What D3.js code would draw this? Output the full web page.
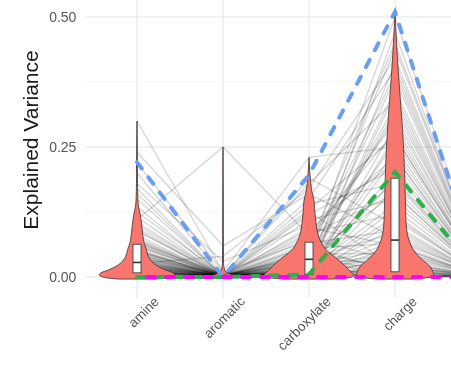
<!DOCTYPE html>
<html>
<head>
<meta charset="utf-8">
<script src="https://cdn.jsdelivr.net/npm/d3@7"></script>
<style>
  body { margin: 0; background: #fff; }
  svg { display: block; font-family: "Liberation Sans", Arial, sans-serif; filter: blur(0.4px); }
</style>
</head>
<body>
<svg id="chart" width="451" height="367"></svg>
<script>
// categories (the 5th one sits just past the right edge of the crop)
const categories = ["amine", "aromatic", "carboxylate", "charge", "next"];
const tickLabels = ["amine", "aromatic", "carboxylate", "charge", ""];
const yTicks = [0, 0.25, 0.5];
const yMinorTicks = [0.125, 0.375];

// one value per sample and category (gray lines)
const amineVals = [0.002,0.004,0.006,0.008,0.010,0.012,0.014,0.016,0.018,0.020,0.022,0.024,0.026,0.028,0.030,0.032,0.035,0.038,0.040,0.043,0.046,0.050,0.054,0.058,0.062,0.066,0.070,0.075,0.080,0.088,0.095,0.105,0.115,0.125,0.135,0.150,0.170,0.200,0.240,0.300,0.003,0.005,0.007,0.009,0.011,0.015,0.019,0.025,0.033,0.045,0.060,0.110,0.180,0.220,0.026,
  0.012,0.020,0.035,0.050,0.008,0.028,0.042,0.016,0.064,0.072,0.004,0.010,0.022,0.038,0.090,0.006,0.013,0.018,0.030,0.052,0.100,0.160,0.048,0.024,0.068];
const aromaticVals = [0.001,0.000,0.002,0.001,0.003,0.000,0.001,0.002,0.004,0.001,0.000,0.002,0.001,0.003,0.000,0.002,0.001,0.004,0.000,0.002,0.001,0.003,0.000,0.002,0.001,0.005,0.000,0.002,0.001,0.003,0.000,0.002,0.001,0.004,0.000,0.002,0.001,0.003,0.060,0.010,0.000,0.001,0.000,0.001,0.002,0.000,0.001,0.002,0.000,0.001,0.002,0.250,0.030,0.010,0.040,
  0.001,0.002,0.000,0.001,0.003,0.001,0.002,0.000,0.001,0.002,0.000,0.001,0.000,0.002,0.001,0.000,0.001,0.000,0.001,0.000,0.002,0.001,0.003,0.001,0.002];
const carboxylateVals = [0.003,0.002,0.008,0.001,0.012,0.004,0.020,0.006,0.025,0.010,0.030,0.002,0.035,0.015,0.040,0.005,0.045,0.018,0.050,0.008,0.055,0.022,0.060,0.003,0.065,0.028,0.075,0.012,0.085,0.032,0.095,0.007,0.110,0.038,0.125,0.014,0.140,0.042,0.160,0.230,0.001,0.004,0.002,0.006,0.009,0.003,0.016,0.011,0.024,0.005,0.190,0.080,0.100,0.070,0.170,
  0.010,0.020,0.030,0.050,0.004,0.015,0.060,0.009,0.120,0.080,0.002,0.007,0.013,0.027,0.045,0.001,0.005,0.008,0.017,0.035,0.150,0.180,0.090,0.040,0.130];
const chargeVals = [0.004,0.010,0.002,0.020,0.006,0.035,0.001,0.050,0.012,0.080,0.003,0.110,0.025,0.140,0.008,0.170,0.045,0.200,0.015,0.230,0.065,0.260,0.005,0.290,0.090,0.320,0.030,0.350,0.120,0.380,0.060,0.410,0.150,0.440,0.020,0.470,0.180,0.500,0.075,0.250,0.001,0.002,0.007,0.004,0.013,0.018,0.028,0.040,0.055,0.070,0.100,0.160,0.220,0.300,0.420,
  0.190,0.240,0.330,0.390,0.270,0.360,0.450,0.130,0.210,0.280,0.060,0.095,0.115,0.185,0.310,0.015,0.022,0.032,0.048,0.085,0.400,0.340,0.230,0.160,0.270];
const nextVals = [0.001,0.002,0.000,0.003,0.001,0.004,0.002,0.006,0.001,0.003,0.000,0.005,0.002,0.008,0.001,0.004,0.003,0.010,0.002,0.006,0.001,0.012,0.000,0.007,0.004,0.015,0.002,0.009,0.003,0.011,0.001,0.013,0.005,0.016,0.002,0.010,0.004,0.018,0.003,0.006,0.000,0.001,0.000,0.002,0.001,0.003,0.002,0.004,0.001,0.005,0.003,0.007,0.008,0.012,0.014,
  0.006,0.009,0.011,0.013,0.008,0.012,0.015,0.004,0.007,0.010,0.002,0.003,0.004,0.006,0.009,0.001,0.002,0.001,0.002,0.003,0.012,0.010,0.008,0.005,0.009];

// violin density profiles: [value, relative density]
const amineViolin = [[-0.004,0.42],[0,0.76],[0.004,0.84],[0.008,0.8],[0.014,0.62],[0.02,0.48],[0.027,0.36],[0.035,0.28],[0.045,0.23],[0.055,0.2],[0.065,0.16],[0.08,0.13],[0.095,0.11],[0.11,0.09],[0.125,0.06],[0.135,0.035],[0.15,0.02],[0.18,0.012],[0.22,0.008],[0.26,0.006],[0.30,0]];
const aromaticViolin = [[-0.003,0.1],[0,0.22],[0.003,0.24],[0.006,0.15],[0.01,0.06],[0.02,0.02],[0.05,0.01],[0.15,0.006],[0.25,0]];
const carboxylateViolin = [[-0.004,0.5],[0,0.95],[0.004,1],[0.01,0.93],[0.018,0.84],[0.027,0.73],[0.04,0.55],[0.052,0.38],[0.07,0.25],[0.085,0.19],[0.104,0.155],[0.125,0.13],[0.148,0.11],[0.162,0.07],[0.18,0.04],[0.2,0.02],[0.215,0.01],[0.23,0]];
const chargeViolin = [[-0.004,0.4],[0,0.8],[0.003,0.86],[0.01,0.84],[0.02,0.78],[0.03,0.65],[0.046,0.46],[0.06,0.36],[0.077,0.29],[0.1,0.25],[0.15,0.23],[0.21,0.21],[0.28,0.17],[0.34,0.12],[0.40,0.07],[0.45,0.035],[0.49,0.012],[0.51,0]];
const violins = [amineViolin, aromaticViolin, carboxylateViolin, chargeViolin];

// boxplot stats for the four visible categories
const boxQ1 = [0.008, 0.0005, 0.005, 0.01];
const boxMedian = [0.028, 0.002, 0.034, 0.071];
const boxQ3 = [0.063, 0.004, 0.067, 0.19];

// dashed summary lines
const blueSeries = [0.221, 0, 0.196, 0.51, 0];
const greenSeries = [0, 0, 0.005, 0.202, 0];
const magentaSeries = [0, 0, 0, 0, 0];

const W = 451, H = 367;
const svg = d3.select("#chart");
svg.append("rect").attr("width", W).attr("height", H).attr("fill", "#fff");

const x = d3.scalePoint().domain(categories).range([137, 481]);
const y = d3.scaleLinear().domain([0, 0.5]).range([277, 17]);
const w = d3.scaleLinear().domain([0, 1]).range([0, 45]);

const panelLeft = x(categories[0]) - 0.6 * x.step();
const panelTop = 0, panelBottom = 298;

// grid
const grid = svg.append("g");
grid.selectAll(".minor").data(yMinorTicks).join("line")
  .attr("x1", panelLeft).attr("x2", W)
  .attr("y1", d => y(d)).attr("y2", d => y(d))
  .attr("stroke", "#f0f0f0").attr("stroke-width", 0.7);
grid.selectAll(".major").data(yTicks).join("line")
  .attr("x1", panelLeft).attr("x2", W)
  .attr("y1", d => y(d)).attr("y2", d => y(d))
  .attr("stroke", "#e6e6e6").attr("stroke-width", 1.1);
grid.selectAll(".vert").data(categories).join("line")
  .attr("x1", d => x(d)).attr("x2", d => x(d))
  .attr("y1", panelTop).attr("y2", panelBottom)
  .attr("stroke", "#e6e6e6").attr("stroke-width", 1.1);

// gray sample lines
const samples = amineVals.map((v, i) => [v, aromaticVals[i], carboxylateVals[i], chargeVals[i], nextVals[i]]);
const line = d3.line().x((d, i) => x(categories[i])).y(d => y(d));
svg.append("g").selectAll("path").data(samples).join("path")
  .attr("d", line)
  .attr("fill", "none")
  .attr("stroke", "#000")
  .attr("stroke-opacity", 0.16)
  .attr("stroke-width", 1.4);

// violins
violins.forEach((prof, i) => {
  const cx = x(categories[i]);
  const area = d3.area()
    .y(d => y(d[0]))
    .x0(d => cx - w(d[1]))
    .x1(d => cx + w(d[1]))
    .curve(d3.curveCatmullRom);
  svg.append("path")
    .datum(prof)
    .attr("d", area)
    .attr("fill", "#F8766D")
    .attr("stroke", "#3a3030")
    .attr("stroke-width", 0.8);
});

// boxes
const boxes = svg.append("g");
categories.slice(0, 4).forEach((c, i) => {
  const cx = x(c);
  boxes.append("rect")
    .attr("x", cx - 4).attr("width", 8)
    .attr("y", y(boxQ3[i])).attr("height", y(boxQ1[i]) - y(boxQ3[i]))
    .attr("fill", "#fff").attr("stroke", "#333").attr("stroke-width", 0.8);
  boxes.append("line")
    .attr("x1", cx - 4).attr("x2", cx + 4)
    .attr("y1", y(boxMedian[i])).attr("y2", y(boxMedian[i]))
    .attr("stroke", "#333").attr("stroke-width", 1.6);
});

// dashed lines
const dashed = [
  { vals: blueSeries, color: "#6a9ef0", offset: 0 },
  { vals: greenSeries, color: "#2bb04a", offset: 0 },
  { vals: magentaSeries, color: "#ff00ff", offset: 9 }
];
dashed.forEach(s => {
  svg.append("path")
    .datum(s.vals)
    .attr("d", line)
    .attr("fill", "none")
    .attr("stroke", s.color)
    .attr("stroke-width", 4)
    .attr("stroke-linecap", "round")
    .attr("stroke-dasharray", "8,11")
    .attr("stroke-dashoffset", s.offset);
});

// y axis
const yAxis = svg.append("g")
  .attr("transform", `translate(${panelLeft},0)`)
  .call(d3.axisLeft(y).tickValues(yTicks).tickFormat(d3.format(".2f")).tickSize(0).tickPadding(9));
yAxis.select(".domain").remove();
yAxis.selectAll("text")
  .attr("font-size", 14)
  .attr("font-family", "Liberation Sans, Arial, sans-serif")
  .attr("fill", "#555");

// x axis
const xAxis = svg.append("g")
  .attr("transform", `translate(0,${panelBottom})`)
  .call(d3.axisBottom(x).tickSize(0).tickFormat((d, i) => tickLabels[i]));
xAxis.select(".domain").remove();
xAxis.selectAll("text")
  .attr("x", 0).attr("y", 0).attr("dy", "0.35em")
  .attr("text-anchor", "end")
  .attr("transform", "translate(19,1) rotate(-45)")
  .attr("font-size", 13.5)
  .attr("font-family", "Liberation Sans, Arial, sans-serif")
  .attr("fill", "#555");

// y title
svg.append("text")
  .attr("transform", "translate(38,140) rotate(-90)")
  .attr("text-anchor", "middle")
  .attr("font-size", 21)
  .attr("fill", "#1a1a1a")
  .text("Explained Variance");
</script>
</body>
</html>
